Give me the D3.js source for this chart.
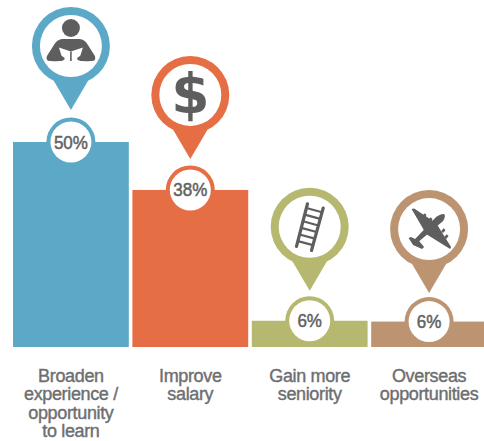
<!DOCTYPE html>
<meta charset="utf-8">
<style>
body { margin: 0; background: #fff; }
svg { display: block; }
text { font-family: "Liberation Sans", sans-serif; }
</style>
<script src="https://d3js.org/d3.v7.min.js"></script>
<div id="chart"></div>
<script>

// chart data
var categories = ["Broaden", "Improve", "Gain", "Overseas"];
var categoryLines = [
  ["Broaden", "experience /", "opportunity", "to learn"],
  ["Improve", "salary"],
  ["Gain more", "seniority"],
  ["Overseas", "opportunities"]
];
var percentValues = [50, 38.3, 6.4, 6.2]; // bar heights, the labels round these
var barColors = ["#5ca8c7", "#e66e45", "#b7b86f", "#bc9472"];
var iconNames = ["reader", "dollar", "ladder", "plane"];
var pinLift = [96, 95, 94, 92.5]; // distance from bar top up to the pin head centre

var width = 484, height = 441, baseline = 347;
var grey = "#5e5e5e";

var svg = d3.select("#chart")
  .append("svg")
    .attr("width", width)
    .attr("height", height);

var x = d3.scaleBand()
  .domain(categories)
  .range([13, 487])
  .paddingInner(0.03);

var y = d3.scaleLinear()
  .domain([0, 50])
  .range([baseline, 142]);

var rows = categories.map(function(c, i) {
  return {
    name: c, value: percentValues[i], color: barColors[i], icon: iconNames[i], lines: categoryLines[i],
    cx: x(c) + x.bandwidth() / 2, top: y(percentValues[i]), lift: pinLift[i]
  };
});

// bars
svg.selectAll("rect.bar")
  .data(rows)
  .join("rect")
    .attr("class", "bar")
    .attr("x", function(d) { return x(d.name); })
    .attr("y", function(d) { return d.top; })
    .attr("width", x.bandwidth())
    .attr("height", function(d) { return baseline - d.top; })
    .attr("fill", function(d) { return d.color; });

// value badge sitting on top of each bar
var badge = svg.selectAll("g.badge")
  .data(rows)
  .join("g")
    .attr("class", "badge")
    .attr("transform", function(d) { return "translate(" + d.cx + "," + d.top + ")"; });
badge.append("circle").attr("r", 24.5).attr("fill", function(d) { return d.color; });
badge.append("circle").attr("r", 20.5).attr("fill", "#fff");
badge.append("text")
  .attr("text-anchor", "middle")
  .attr("transform", "translate(0,6.5) scale(0.92,1)")
  .attr("font-size", 18.5)
  .attr("fill", "#626262")
  .attr("stroke", "#626262")
  .attr("stroke-width", 0.5)
  .text(function(d) { return d3.format(".0f")(d.value) + "%"; });

// map pins above the bars
var pin = svg.selectAll("g.pin")
  .data(rows)
  .join("g")
    .attr("class", "pin")
    .attr("transform", function(d) { return "translate(" + d.cx + "," + (d.top - d.lift) + ")"; });
pin.append("circle").attr("r", 39).attr("fill", function(d) { return d.color; });
pin.append("path")
  .attr("d", "M-17,35L0,64L17,35Z")
  .attr("fill", function(d) { return d.color; });
pin.append("circle").attr("r", 31).attr("fill", "#fff");

pin.each(function(d) {
  var g = d3.select(this);
  if (d.icon == "reader") drawReader(g);
  if (d.icon == "dollar") drawDollar(g);
  if (d.icon == "ladder") drawLadder(g);
  if (d.icon == "plane") drawPlane(g);
});

// category labels
svg.selectAll("text.cat")
  .data(rows)
  .join("text")
    .attr("class", "cat")
    .attr("text-anchor", "middle")
    .attr("y", 382)
    .attr("font-size", 18)
    .attr("letter-spacing", -0.35)
    .attr("fill", "#6d6e70")
    .attr("stroke", "#6d6e70")
    .attr("stroke-width", 0.4)
  .selectAll("tspan")
  .data(function(d) { return d.lines.map(function(l) { return {line: l, cx: d.cx}; }); })
  .join("tspan")
    .attr("x", function(d) { return d.cx; })
    .attr("dy", function(d, i) { return i ? 18.4 : 0; })
    .text(function(d) { return d.line; });

function drawReader(g) {
  g.append("circle").attr("cy", -18).attr("r", 9).attr("fill", grey);
  g.append("path")
    .attr("d", "M-9,-7L9,-7C13,-6.5 15,-4 17,-1L24,10Q25.5,15 21,15L-21,15Q-25.5,15 -24,10L-17,-1C-15,-4 -13,-6.5 -9,-7Z")
    .attr("fill", grey);
  // open book
  g.append("path")
    .attr("d", "M-12,1.5L0,5.5L12,1.5L9,11L9,15.5L-9,15.5L-9,11Z")
    .attr("fill", "#fff");
  g.append("path").attr("d", "M-0.8,5.5L0.8,5.5L0.8,15L-0.8,15Z").attr("fill", grey);
  g.append("path").attr("d", "M-20,15Q-8,16 -6,13Q-8,9 -14,9Z").attr("fill", grey);
  g.append("path").attr("d", "M20,15Q8,16 6,13Q8,9 14,9Z").attr("fill", grey);
}

function drawDollar(g) {
  g.append("text")
    .attr("text-anchor", "middle")
    .attr("y", 18)
    .attr("font-size", 55)
    .attr("font-weight", "bold")
    .style("font-family", "'DejaVu Sans'")
    .attr("fill", grey)
    .text("$");
}

function drawLadder(g) {
  var left = [[-2.2, -23], [-13.2, 19.7]];
  var right = [[13.5, -18.7], [1.8, 23.7]];
  [left, right].forEach(function(r) {
    g.append("line")
      .attr("x1", r[0][0]).attr("y1", r[0][1])
      .attr("x2", r[1][0]).attr("y2", r[1][1])
      .attr("stroke", grey).attr("stroke-width", 3.2).attr("stroke-linecap", "round");
  });
  d3.range(6).forEach(function(i) {
    var t = 0.1 + i * 0.155;
    g.append("line")
      .attr("x1", left[0][0] + (left[1][0] - left[0][0]) * t)
      .attr("y1", left[0][1] + (left[1][1] - left[0][1]) * t)
      .attr("x2", right[0][0] + (right[1][0] - right[0][0]) * t)
      .attr("y2", right[0][1] + (right[1][1] - right[0][1]) * t)
      .attr("stroke", grey).attr("stroke-width", 2.2);
  });
}

function drawPlane(g) {
  // fuselage, wings, tailplane
  g.append("path")
    .attr("d", "M15,-15Q17,-13 14,-8L-12,14L-16,14L-14,10L7,-12Q12,-15.5 15,-15Z")
    .attr("fill", grey);
  g.append("path")
    .attr("d", "M-17.5,-20L-15,-20.5L7,-6L22,18L21,20L-3,5L-7,-2Z")
    .attr("fill", grey);
  g.append("path")
    .attr("d", "M-20.5,9L-18,8L-10,12L-5,18L-7,20L-16,16Z")
    .attr("fill", grey);
  // engines
  [[-6, -12], [0, -8], [13, 3], [16, 9]].forEach(function(e) {
    g.append("line")
      .attr("x1", e[0]).attr("y1", e[1])
      .attr("x2", e[0] + 2.5).attr("y2", e[1] - 3)
      .attr("stroke", grey).attr("stroke-width", 2.6);
  });
}

</script>
